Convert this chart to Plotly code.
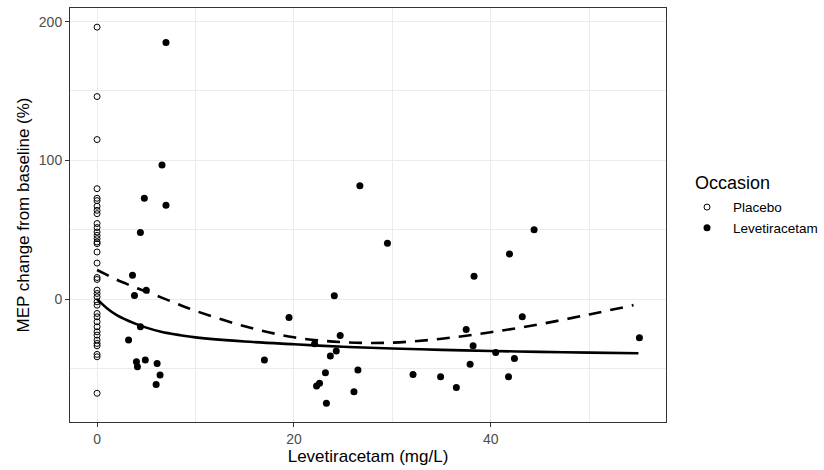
import plotly.graph_objects as go

# Placebo observations (concentration 0)
placebo_y = [196, 146, 115, 79.6, 72.7, 71, 67, 64, 61.6, 54.5, 51.6, 48.4, 46, 43.6, 41.2, 40,
             34, 26, 15.6, 14.2, 6.5, 4.1, 1.7, -1.9, -4.3, -10.3, -12.7, -16.3, -19.9, -23.5,
             -25.9, -29.5, -31.9, -33.6, -39.8, -41.5, -67.8]
placebo_x = [0] * len(placebo_y)

# Levetiracetam observations
lev_x = [7.0, 6.6, 4.8, 7.0, 4.4, 3.6, 3.8, 5.0, 4.4, 3.2, 4.0, 4.1, 4.9, 6.1, 6.4, 6.0,
         26.7, 24.1, 19.5, 24.7, 22.1, 24.3, 23.7, 17.0, 26.5, 23.2, 22.3, 22.6, 26.1, 23.3,
         29.5, 44.4, 41.9, 38.3, 43.2, 37.5, 38.2, 40.5, 42.4, 55.1, 32.1, 34.9, 36.5, 37.9, 41.8]
lev_y = [185, 96.6, 72.7, 67.6, 48, 17.3, 2.6, 6.5, -19.9, -29.5, -45, -48.7, -43.9, -46.3, -54.7, -61.4,
         81.8, 2.4, -13.2, -26.1, -32.2, -37.4, -41, -43.9, -51, -53, -62.6, -60.6, -66.7, -75,
         40.3, 50.1, 32.6, 16.5, -12.7, -21.8, -33.6, -38.4, -42.7, -27.8, -54.2, -55.9, -63.6, -46.8, -55.9]

# Model curves
curve_x = [0, 1, 2, 3, 4, 5, 6.5, 8.5, 10, 15, 20, 25, 30, 35, 40, 45, 50, 55]
solid_y = [0, -6.5, -11.5, -15, -18, -20.5, -23.5, -26, -27.5, -30.5, -32.5, -34.3, -35.5, -36.5, -37.3, -38, -38.5, -39]
dash_x = [0, 1, 2, 3, 4, 5, 7.5, 10, 15, 20, 25, 30, 35, 40, 45, 50, 54.5]
dash_y = [21, 17.5, 14, 11, 8, 5.5, -1.5, -8.4, -19.5, -27.5, -31, -31.3, -28.5, -23.8, -18, -11, -4.3]

FONT = "Liberation Sans, Arial"

fig = go.Figure()
fig.add_trace(go.Scatter(x=curve_x, y=solid_y, mode="lines", line=dict(color="black", width=2.6, shape="spline"),
                         showlegend=False, hoverinfo="skip"))
fig.add_trace(go.Scatter(x=dash_x, y=dash_y, mode="lines",
                         line=dict(color="black", width=2.6, dash="13px,9px", shape="spline"),
                         showlegend=False, hoverinfo="skip"))
fig.add_trace(go.Scatter(x=placebo_x, y=placebo_y, mode="markers", name="Placebo",
                         marker=dict(symbol="circle-open", size=6, color="black", line=dict(width=1, color="black"))))
fig.add_trace(go.Scatter(x=lev_x, y=lev_y, mode="markers", name="Levetiracetam",
                         marker=dict(symbol="circle", size=7, color="black")))

axis_common = dict(
    showline=True, mirror=True, linecolor="#333333", linewidth=1,
    ticks="outside", ticklen=4, tickcolor="#333333", tickwidth=1,
    showgrid=True, gridcolor="#EBEBEB", gridwidth=1.1, zeroline=False,
    tickfont=dict(family=FONT, size=14, color="#4D4D4D"),
)
fig.update_xaxes(range=[-2.75, 57.8], tick0=0, dtick=20,
                 minor=dict(dtick=10, showgrid=True, gridcolor="#EBEBEB", gridwidth=0.6),
                 title=dict(text="Levetiracetam (mg/L)", font=dict(family=FONT, size=17, color="black"),
                            standoff=3),
                 **axis_common)
fig.update_yaxes(range=[-88.5, 209.8], tick0=0, dtick=100,
                 minor=dict(dtick=50, showgrid=True, gridcolor="#EBEBEB", gridwidth=0.6),
                 title=dict(text="MEP change from baseline (%)", font=dict(family=FONT, size=17, color="black"),
                            standoff=4),
                 **axis_common)

fig.add_annotation(text="Occasion", xref="paper", yref="paper", x=1.0453, y=0.5773,
                   xanchor="left", yanchor="middle", showarrow=False,
                   font=dict(family=FONT, size=18, color="black"))

fig.update_layout(
    width=824, height=470,
    margin=dict(l=70, r=158, t=8, b=48, autoexpand=False),
    plot_bgcolor="white", paper_bgcolor="white",
    font=dict(family=FONT),
    legend=dict(font=dict(family=FONT, size=13.5, color="black"),
                x=1.0252, xanchor="left", y=0.556, yanchor="top",
                itemwidth=42, tracegroupgap=0),
)

fig.write_html("out.html")
